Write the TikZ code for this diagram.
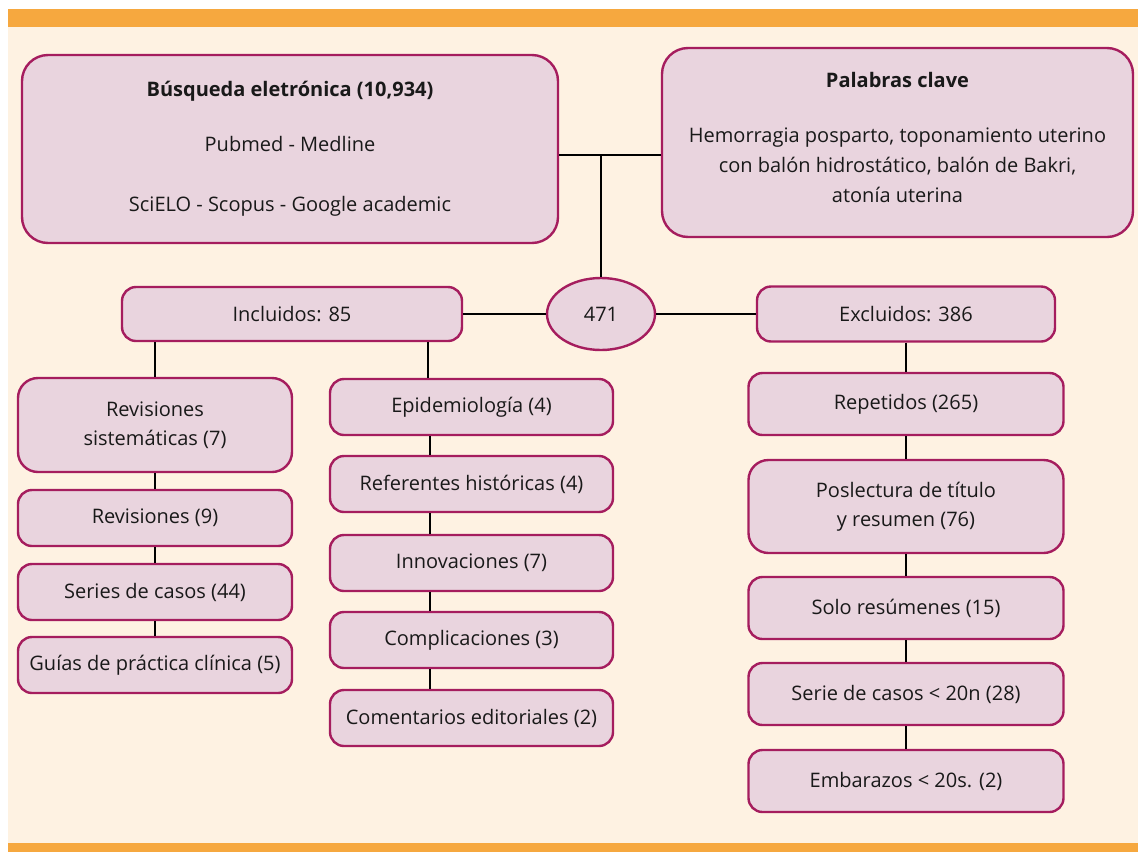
\documentclass[tikz,border=0pt]{standalone}
\usepackage{fontspec}
\setmainfont{Open Sans}
\usetikzlibrary{shapes.geometric}
\definecolor{bgcream}{HTML}{FEF2E2}
\definecolor{barorange}{HTML}{F6A83F}
\definecolor{boxfill}{HTML}{E9D4DE}
\definecolor{boxline}{HTML}{A51D5E}
\tikzset{
  box/.style={draw=boxline, fill=boxfill, line width=2.4pt, rounded corners=20pt, align=center, inner sep=2pt, font=\fontsize{20}{28.5}\selectfont, text=black!90},
  smallbox/.style={box, rounded corners=14pt},
  oval/.style={draw=boxline, fill=boxfill, line width=2.4pt, ellipse, inner sep=0pt, font=\fontsize{20}{28}\selectfont, text=black!90},
  link/.style={line width=2.4pt, black}
}
\begin{document}
\begin{tikzpicture}[x=1pt,y=-1pt]
\useasboundingbox (0,0) rectangle (1138,852);
\fill[white] (0,0) rectangle (1138,852);
\fill[bgcream] (8,27) rectangle (1138,843);
\fill[barorange] (8,9) rectangle (1138,27);
\fill[barorange] (8,843) rectangle (1138,852);

% top boxes
\node[box, rounded corners=26pt, minimum width=536pt, minimum height=188pt] (b1) at (290,149)
  {\textbf{Búsqueda eletrónica (10,934)}\\[26pt]Pubmed - Medline\\[32pt]SciELO - Scopus - Google academic};
\node[box, rounded corners=26pt, minimum width=471pt, minimum height=189pt, font=\fontsize{20}{30}\selectfont] (b2) at (897.5,142.5)
  {\textbf{Palabras clave}\\[25pt]Hemorragia posparto, toponamiento uterino\\con balón hidrostático, balón de Bakri,\\atonía uterina\\[-20pt]\mbox{}};

% center
\node[oval, minimum width=108pt, minimum height=72pt] (ell) at (601,314) {471};
\node[smallbox, minimum width=340pt, minimum height=54pt] (inc) at (292,314) {Incluidos: 85};
\node[smallbox, minimum width=298pt, minimum height=55pt] (exc) at (906,314) {Excluidos: 386};

% left column
\node[box, minimum width=274pt, minimum height=94pt] (l1) at (155,425) {Revisiones\\sistemáticas (7)};
\node[smallbox, minimum width=274pt, minimum height=56pt] (l2) at (155,518) {Revisiones (9)};
\node[smallbox, minimum width=274pt, minimum height=56pt] (l3) at (155,592) {Series de casos (44)};
\node[smallbox, minimum width=274pt, minimum height=56pt] (l4) at (155,665) {Guías de práctica clínica (5)};

% middle column
\node[smallbox, minimum width=283pt, minimum height=56pt] (m1) at (471.5,407) {Epidemiología (4)};
\node[smallbox, minimum width=283pt, minimum height=56pt] (m2) at (471.5,484) {Referentes históricas (4)};
\node[smallbox, minimum width=283pt, minimum height=56pt] (m3) at (471.5,563) {Innovaciones (7)};
\node[smallbox, minimum width=283pt, minimum height=56pt] (m4) at (471.5,640) {Complicaciones (3)};
\node[smallbox, minimum width=283pt, minimum height=56pt] (m5) at (471.5,718) {Comentarios editoriales (2)};

% right column
\node[smallbox, minimum width=315pt, minimum height=62pt] (r1) at (906,404) {Repetidos (265)};
\node[box, minimum width=315pt, minimum height=93pt] (r2) at (906,506.5) {Poslectura de título\\y resumen (76)};
\node[smallbox, minimum width=315pt, minimum height=62pt] (r3) at (906,608) {Solo resúmenes (15)};
\node[smallbox, minimum width=315pt, minimum height=62pt] (r4) at (906,694) {Serie de casos < 20n (28)};
\node[smallbox, minimum width=315pt, minimum height=62pt] (r5) at (906,781) {Embarazos < 20s. (2)};

% connectors
\coordinate (j) at (601,155);
\draw[link] (b1.east |- j) -- (b2.west |- j);
\draw[link] (j) -- (ell.north);
\draw[link] (inc.east) -- (ell.west);
\draw[link] (ell.east) -- (exc.west);
\draw[link] (inc.south -| l1.north) -- (l1.north);
\draw[link] (inc.south -| 428,0) -- (428,0 |- m1.north);
\draw[link] (l1.south) -- (l2.north);
\draw[link] (l2.south) -- (l3.north);
\draw[link] (l3.south) -- (l4.north);
\draw[link] (430,0 |- m1.south) -- (430,0 |- m2.north);
\draw[link] (430,0 |- m2.south) -- (430,0 |- m3.north);
\draw[link] (430,0 |- m3.south) -- (430,0 |- m4.north);
\draw[link] (430,0 |- m4.south) -- (430,0 |- m5.north);
\draw[link] (exc.south) -- (r1.north);
\draw[link] (r1.south) -- (r2.north);
\draw[link] (r2.south) -- (r3.north);
\draw[link] (r3.south) -- (r4.north);
\draw[link] (r4.south) -- (r5.north);
\end{tikzpicture}
\end{document}
